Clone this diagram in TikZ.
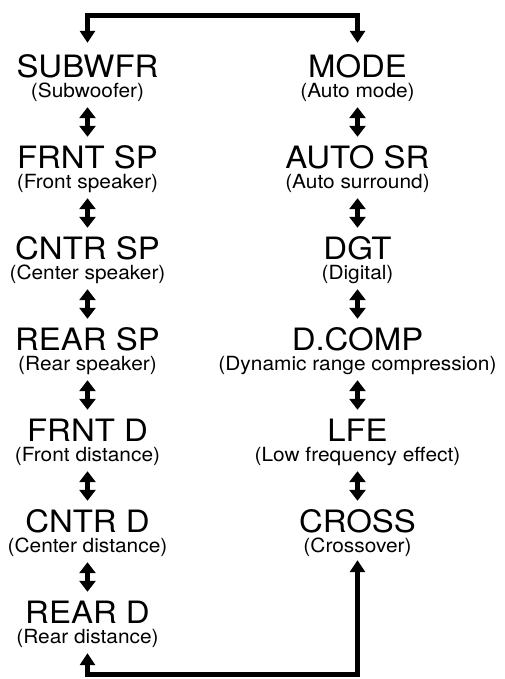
\documentclass[tikz,border=0pt]{standalone}
\usepackage{fontspec}
\newfontfamily\hv[FakeStretch=1.07]{TeX Gyre Heros}
\usetikzlibrary{arrows.meta}
\tikzset{
  ttl/.style={font=\hv\fontsize{30.8}{32}\selectfont, inner sep=0pt, anchor=base, text height=22pt, text depth=0pt},
  subt/.style={font=\hv\fontsize{19.5}{21}\selectfont, inner sep=0pt, anchor=base, text height=14pt, text depth=4.5pt},
  dbl/.style={line width=5pt, {Triangle[width=16pt,length=11pt]}-{Triangle[width=16pt,length=11pt]}, shorten <=5pt, shorten >=9.5pt},
  conn/.style={line width=5pt, line join=miter, {Triangle[width=15pt,length=12pt]}-{Triangle[width=15pt,length=12pt]}}
}
\begin{document}
\begin{tikzpicture}[x=1pt,y=1pt]
\useasboundingbox (0,0) rectangle (504,679);
% left column
\node[ttl]  (L0) at (87.5,601.5) {SUBWFR};
\node[subt] (S0) at (87.5,581.5) {(Subwoofer)};
\node[ttl]  (L1) at (87.5,510.5) {FRNT SP};
\node[subt] (S1) at (87.5,490.5) {(Front speaker)};
\node[ttl]  (L2) at (87.5,419.5) {CNTR SP};
\node[subt] (S2) at (87.5,399.5) {(Center speaker)};
\node[ttl]  (L3) at (87.5,328.5) {REAR SP};
\node[subt] (S3) at (87.5,308.5) {(Rear speaker)};
\node[ttl]  (L4) at (87.5,237.5) {FRNT D};
\node[subt] (S4) at (87.5,217.5) {(Front distance)};
\node[ttl]  (L5) at (87.5,146.5) {CNTR D};
\node[subt] (S5) at (87.5,126.5) {(Center distance)};
\node[ttl]  (L6) at (87.5,55.5) {REAR D};
\node[subt] (S6) at (87.5,35.5) {(Rear distance)};
% right column
\node[ttl]  (R0) at (357.5,601.5) {MODE};
\node[subt] (T0) at (357.5,581.5) {(Auto mode)};
\node[ttl]  (R1) at (357.5,510.5) {AUTO SR};
\node[subt] (T1) at (357.5,490.5) {(Auto surround)};
\node[ttl]  (R2) at (357.5,419.5) {DGT};
\node[subt] (T2) at (357.5,399.5) {(Digital)};
\node[ttl]  (R3) at (357.5,328.5) {D.COMP};
\node[subt] (T3) at (357.5,308.5) {(Dynamic range compression)};
\node[ttl]  (R4) at (357.5,237.5) {LFE};
\node[subt] (T4) at (357.5,217.5) {(Low frequency effect)};
\node[ttl]  (R5) at (357.5,146.5) {CROSS};
\node[subt] (T5) at (357.5,126.5) {(Crossover)};
% double arrows
\foreach \a/\b in {S0/L1,S1/L2,S2/L3,S3/L4,S4/L5,S5/L6,T0/R1,T1/R2,T2/R3,T3/R4,T4/R5}
  \draw[dbl] (\a.south) -- (\b.north);
% top connector
\draw[conn, shorten <=12.5pt, shorten >=12.5pt] (L0.north) -- ++(0,40) -| (R0.north);
% bottom connector
\coordinate (bl) at (87.5,4);
\draw[conn, shorten <=5pt, shorten >=3pt] (S6.south) -- (bl) -| (T5.south);
\end{tikzpicture}
\end{document}
